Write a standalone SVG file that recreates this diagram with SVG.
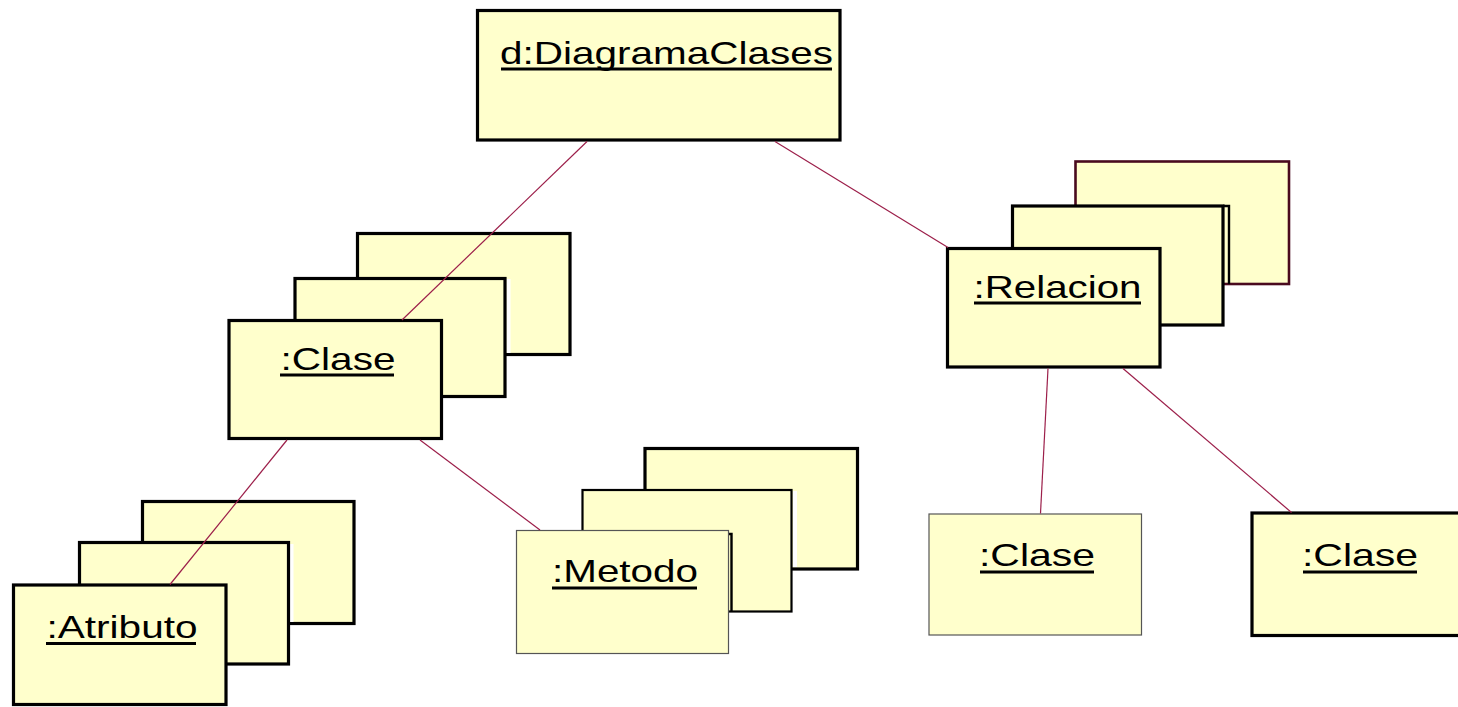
<svg xmlns="http://www.w3.org/2000/svg" width="1458" height="707" viewBox="0 0 1458 707">
<style>
.box{fill:#ffffcc;stroke:#000;stroke-width:3.2}
.thin{fill:#ffffcc;stroke:#555;stroke-width:1.2}
.med{fill:#ffffcc;stroke:#000;stroke-width:2.2}
.back-r{fill:#ffffcc;stroke:#4a0a1e;stroke-width:2.6}
.lbl{font-family:"Liberation Sans",Arial,sans-serif;font-size:32px;fill:#000;text-anchor:middle}
.ul{stroke:#000;stroke-width:3}
.gap{fill:#fff}
.conn line{stroke:#9c1f4a;stroke-width:1.2}
.extra{fill:none;stroke:#000;stroke-width:2.4}
</style>
<rect width="1458" height="707" fill="#fff"/>

<g id="diagramaClases">
<rect class="box" x="477.5" y="10.5" width="362.5" height="129.5" stroke-width="3.6"/>
<text class="lbl" x="666.5" y="63.5" textLength="333" lengthAdjust="spacingAndGlyphs">d:DiagramaClases</text>
<line class="ul" x1="501" y1="69" x2="832" y2="69"/>
</g>

<g id="claseStack">
<rect class="box" x="357.5" y="233.5" width="212.5" height="121"/>
<rect class="gap" x="506.5" y="279" width="4" height="74"/>
<rect class="box" x="295" y="278.5" width="210" height="118"/>
<rect class="box" x="229" y="320.5" width="212.5" height="118"/>
<text class="lbl" x="338" y="369.5" textLength="115" lengthAdjust="spacingAndGlyphs">:Clase</text>
<line class="ul" x1="280" y1="375" x2="394" y2="375"/>
</g>

<g id="relacionStack">
<rect class="back-r" x="1075.5" y="161.5" width="213.5" height="122.5"/>
<rect class="box" x="1012.5" y="206" width="210.5" height="119"/>
<path class="extra" d="M1223,206 H1229 V284"/>
<rect class="box" x="947.5" y="248.5" width="212.5" height="118.5"/>
<text class="lbl" x="1057.5" y="297.5" textLength="168" lengthAdjust="spacingAndGlyphs">:Relacion</text>
<line class="ul" x1="974" y1="303" x2="1141" y2="303"/>
</g>

<g id="atributoStack">
<rect class="box" x="142.5" y="501.5" width="211.5" height="122"/>
<rect class="gap" x="289.5" y="544" width="4" height="78"/>
<rect class="box" x="79.5" y="542.5" width="209" height="121.5"/>
<rect class="box" x="13.5" y="585" width="212.5" height="119.5"/>
<text class="lbl" x="122" y="637.5" textLength="151" lengthAdjust="spacingAndGlyphs">:Atributo</text>
<line class="ul" x1="46" y1="643.5" x2="196" y2="643.5"/>
</g>

<g id="metodoStack">
<rect class="box" x="645" y="448.5" width="212.5" height="120.5"/>
<rect class="gap" x="793" y="491" width="4" height="76"/>
<rect class="med" x="582.5" y="490" width="209" height="121.5"/>
<path class="extra" d="M728,534 H731.5 V611"/>
<rect class="thin" x="516.5" y="530.5" width="212" height="123"/>
<text class="lbl" x="625" y="582" textLength="146" lengthAdjust="spacingAndGlyphs">:Metodo</text>
<line class="ul" x1="552" y1="588" x2="697" y2="588"/>
</g>

<g id="clase1">
<rect class="thin" x="929" y="514" width="212.5" height="121"/>
<text class="lbl" x="1037" y="566" textLength="116" lengthAdjust="spacingAndGlyphs">:Clase</text>
<line class="ul" x1="980" y1="572" x2="1094" y2="572"/>
</g>

<g id="clase2">
<rect class="box" x="1252" y="513" width="230" height="122.5" stroke-width="3.6"/>
<text class="lbl" x="1360" y="566" textLength="116" lengthAdjust="spacingAndGlyphs">:Clase</text>
<line class="ul" x1="1303" y1="572" x2="1417" y2="572"/>
</g>

<g id="connectors" class="conn">
<line x1="587" y1="141.5" x2="402" y2="320"/>
<line x1="775" y1="141.5" x2="948" y2="247.5"/>
<line x1="287" y1="440" x2="170" y2="584.5"/>
<line x1="420" y1="440" x2="540" y2="530"/>
<line x1="1048" y1="368.5" x2="1040.5" y2="513.5"/>
<line x1="1123" y1="368.5" x2="1291.5" y2="512.5"/>
</g>
</svg>
